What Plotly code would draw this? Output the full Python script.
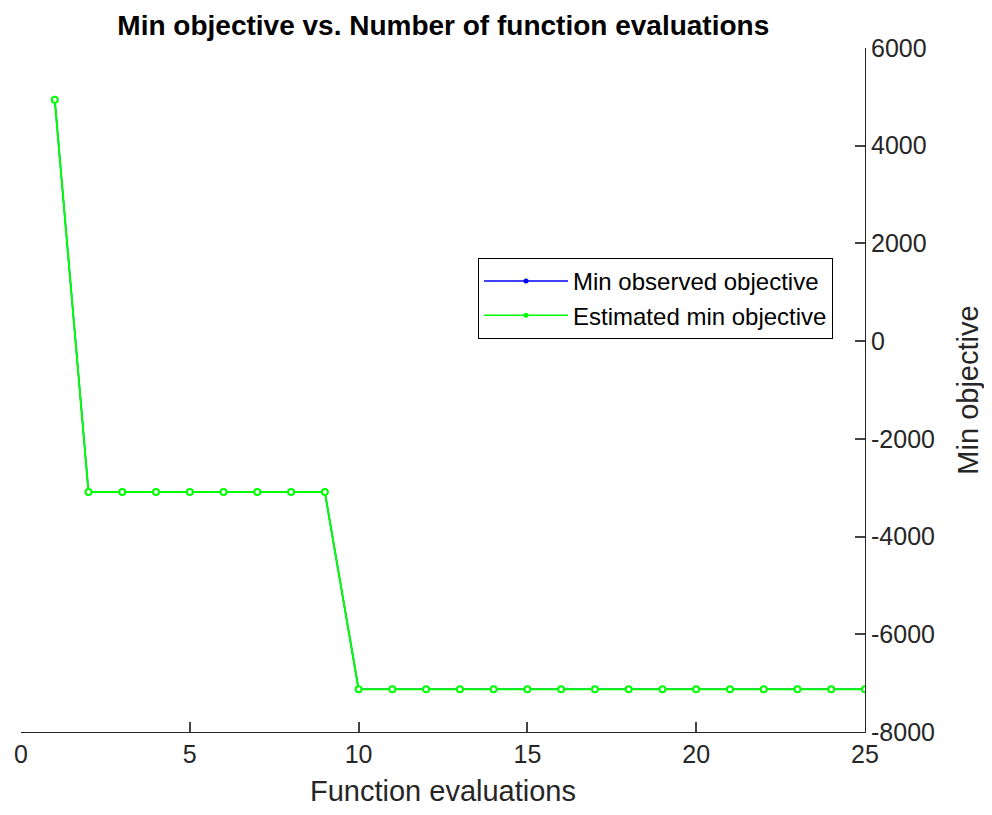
import plotly.graph_objects as go

evaluations = list(range(1, 26))
min_observed = [4940] + [-3090] * 8 + [-7125] * 16
estimated_min = [4940] + [-3090] * 8 + [-7125] * 16

y_ticks = [6000, 4000, 2000, 0, -2000, -4000, -6000, -8000]
y_tick_text = ["6000", "4000", "2000", "0", "-2000", "-4000", "-6000", "-8000"]

AXIS_COLOR = "#262626"
FONT = "Liberation Sans, Arial, Helvetica, sans-serif"

fig = go.Figure()
# plotted lines (blue sits underneath the green one, as in the original)
fig.add_trace(go.Scatter(
    x=evaluations, y=min_observed, name="Min observed objective",
    mode="lines+markers", showlegend=False,
    line=dict(color="#0000FF", width=1.5),
    marker=dict(color="#0000FF", size=2),
))
fig.add_trace(go.Scatter(
    x=evaluations, y=estimated_min, name="Estimated min objective",
    mode="lines+markers", showlegend=False,
    line=dict(color="#00FF00", width=2),
    marker=dict(color="white", size=6, symbol="circle",
                line=dict(color="#00FF00", width=2)),
))
# legend entries (line with a dot)
for name, color in [("Min observed objective", "#0000FF"),
                    ("Estimated min objective", "#00FF00")]:
    fig.add_trace(go.Scatter(
        x=[None], y=[None], name=name, mode="lines+markers",
        line=dict(color=color, width=1.5),
        marker=dict(color=color, size=5),
    ))

# page body has an 8px margin, so the figure is a bit smaller than the window
fig.update_layout(
    template="none",
    width=976, height=799,
    margin=dict(l=13, r=119, t=40, b=75),
    paper_bgcolor="white", plot_bgcolor="white",
    font=dict(family=FONT, color=AXIS_COLOR, size=24),
    title=dict(
        text="<b>Min objective vs. Number of function evaluations</b>",
        x=0.446, xanchor="center", y=0.978, yanchor="middle",
        font=dict(size=28, color="black"),
    ),
    legend=dict(
        x=0.5415, y=0.693, xanchor="left", yanchor="top",
        bgcolor="white", bordercolor="black", borderwidth=1,
        font=dict(size=24, color="black"),
        itemwidth=84, tracegroupgap=0,
    ),
)
fig.update_xaxes(
    range=[0, 25], tick0=0, dtick=5,
    ticks="inside", ticklen=10, tickwidth=2,
    showline=True, linecolor=AXIS_COLOR, linewidth=1,
    showgrid=False, zeroline=False,
    title=dict(text="Function evaluations", font=dict(size=29), standoff=14),
    tickfont=dict(size=25),
)
fig.update_yaxes(
    range=[-8000, 6000], tickmode="array", tickvals=y_ticks,
    ticktext=y_tick_text, side="right",
    ticks="inside", ticklen=10, tickwidth=2,
    showline=True, linecolor=AXIS_COLOR, linewidth=1,
    showgrid=False, zeroline=False,
    title=dict(text="Min objective", font=dict(size=29), standoff=29),
    tickfont=dict(size=25),
)

fig.write_html("out.html")
